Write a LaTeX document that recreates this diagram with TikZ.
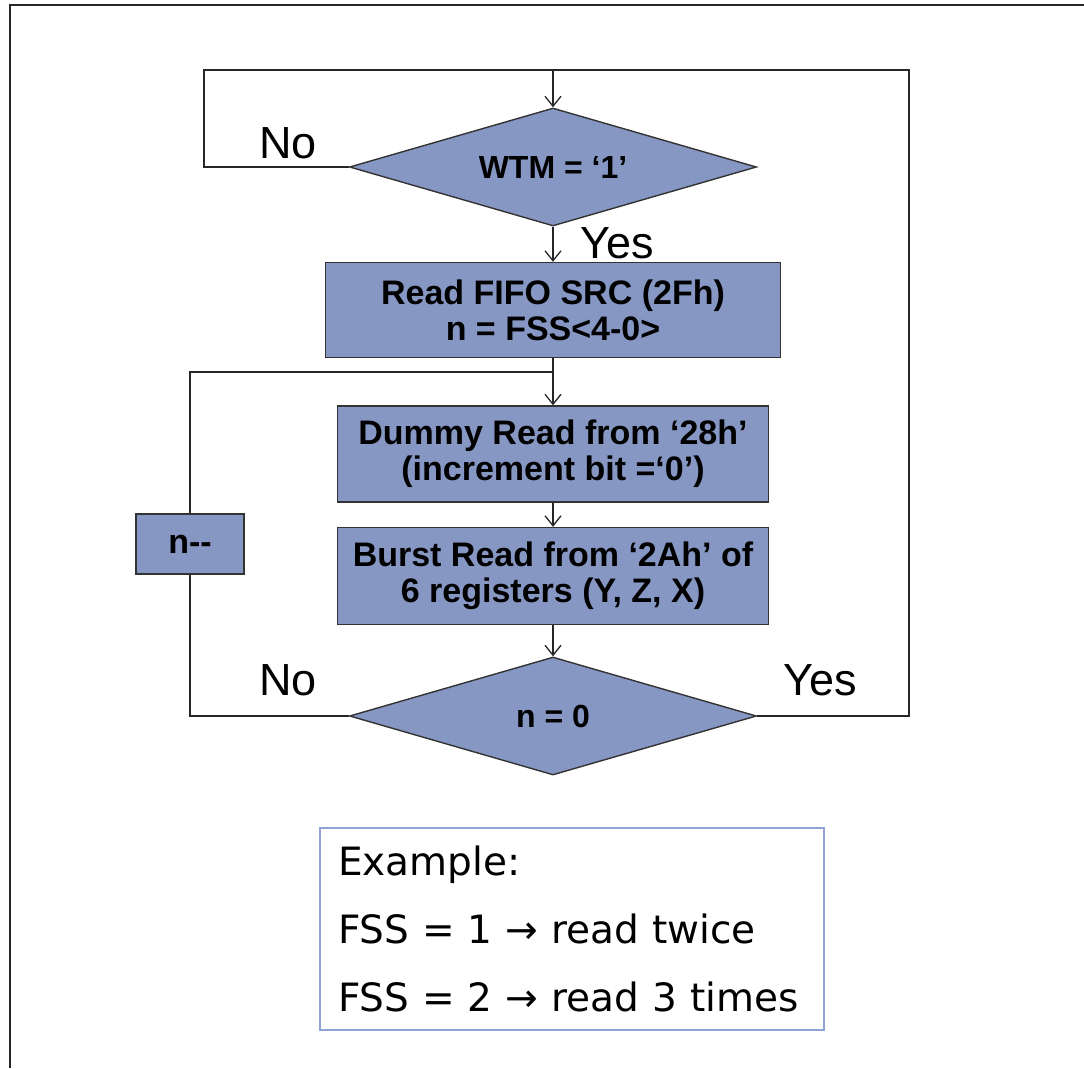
\documentclass[tikz,border=0pt]{standalone}
\usepackage{fontspec}
\setmainfont{Liberation Sans}
\newfontfamily\exfont{DejaVu Sans}
\usetikzlibrary{arrows.meta,shapes.geometric}
\usepackage{xcolor}
\definecolor{colorboxfill}{HTML}{8797C4}
\definecolor{colorexedge}{HTML}{8FA3D3}

\begin{document}
\begin{tikzpicture}
    [x=1pt, y=-1pt,
     >={Straight Barb[length=10pt,width=16pt]},  % open V heads
     line/.style={draw=black!85, line width=1.3pt},
     stepbox/.style={rectangle, draw=black!80, line width=1.4pt, fill=colorboxfill,
        align=center, inner sep=0pt, font=\bfseries\fontsize{34}{36}\selectfont},
     decision/.style={diamond, aspect=3.4, draw=black!80, line width=1.4pt, fill=colorboxfill,
        inner sep=0pt, minimum width=407pt, minimum height=118pt,
        font=\bfseries\fontsize{32}{36}\selectfont},
     answer/.style={font=\fontsize{45}{48}\selectfont},
    ]

\useasboundingbox (0,0) rectangle (1084,1068);
\draw[line width=2.2pt, black!85] (10,1068) -- (10,5) -- (1084,5);

\node[decision] (wtm) at (553,167) {WTM = ‘1’};
\node[stepbox, minimum width=455pt, minimum height=95pt] (readsrc) at (553,310) {Read FIFO SRC (2Fh)\\n = FSS<4-0>};
\node[stepbox, minimum width=431pt, minimum height=96pt] (dummy) at (553,454) {Dummy Read from ‘28h’\\(increment bit =‘0’)};
\node[stepbox, minimum width=431pt, minimum height=97pt] (burst) at (553,576) {Burst Read from ‘2Ah’ of\\6 registers (Y, Z, X)};
\node[decision] (nzero) at (553,716) {n = 0};
\node[stepbox, minimum width=108pt, minimum height=60pt] (dec) at (190,544) {n-{}-};

\node[answer] (no_top) at (288,143) {No};
\node[answer] (yes_top) at (617,243) {Yes};
\node[answer] (no_bottom) at (288,680) {No};
\node[answer] (yes_bottom) at (820,680) {Yes};

\coordinate (toploop) at (553,70);
\coordinate (nocorner) at (204,70);
\coordinate (yescorner) at (909,70);
\coordinate (join) at (553,372);

\draw[line] (wtm.west) -| (nocorner) -- (toploop);
\draw[line] (nzero.east) -| (yescorner) -- (toploop);
\draw[line,->] (toploop) -- (wtm.north);
\draw[line,->] (wtm.south) -- (readsrc.north);
\draw[line] (readsrc.south) -- (join);
\draw[line,->] (join) -- (dummy.north);
\draw[line,->] (dummy.south) -- (burst.north);
\draw[line,->] (burst.south) -- (nzero.north);
\draw[line] (nzero.west) -| (dec.south);
\draw[line] (dec.north) |- (join);

\node[draw=colorexedge, line width=1.6pt, minimum width=504pt, minimum height=202pt,
      text width=468pt, align=left, inner sep=18pt,
      font=\exfont\fontsize{39}{68}\selectfont] (example) at (572,929)
      {Example:\\FSS = 1 → read twice\\FSS = 2 → read 3 times};

\end{tikzpicture}
\end{document}
